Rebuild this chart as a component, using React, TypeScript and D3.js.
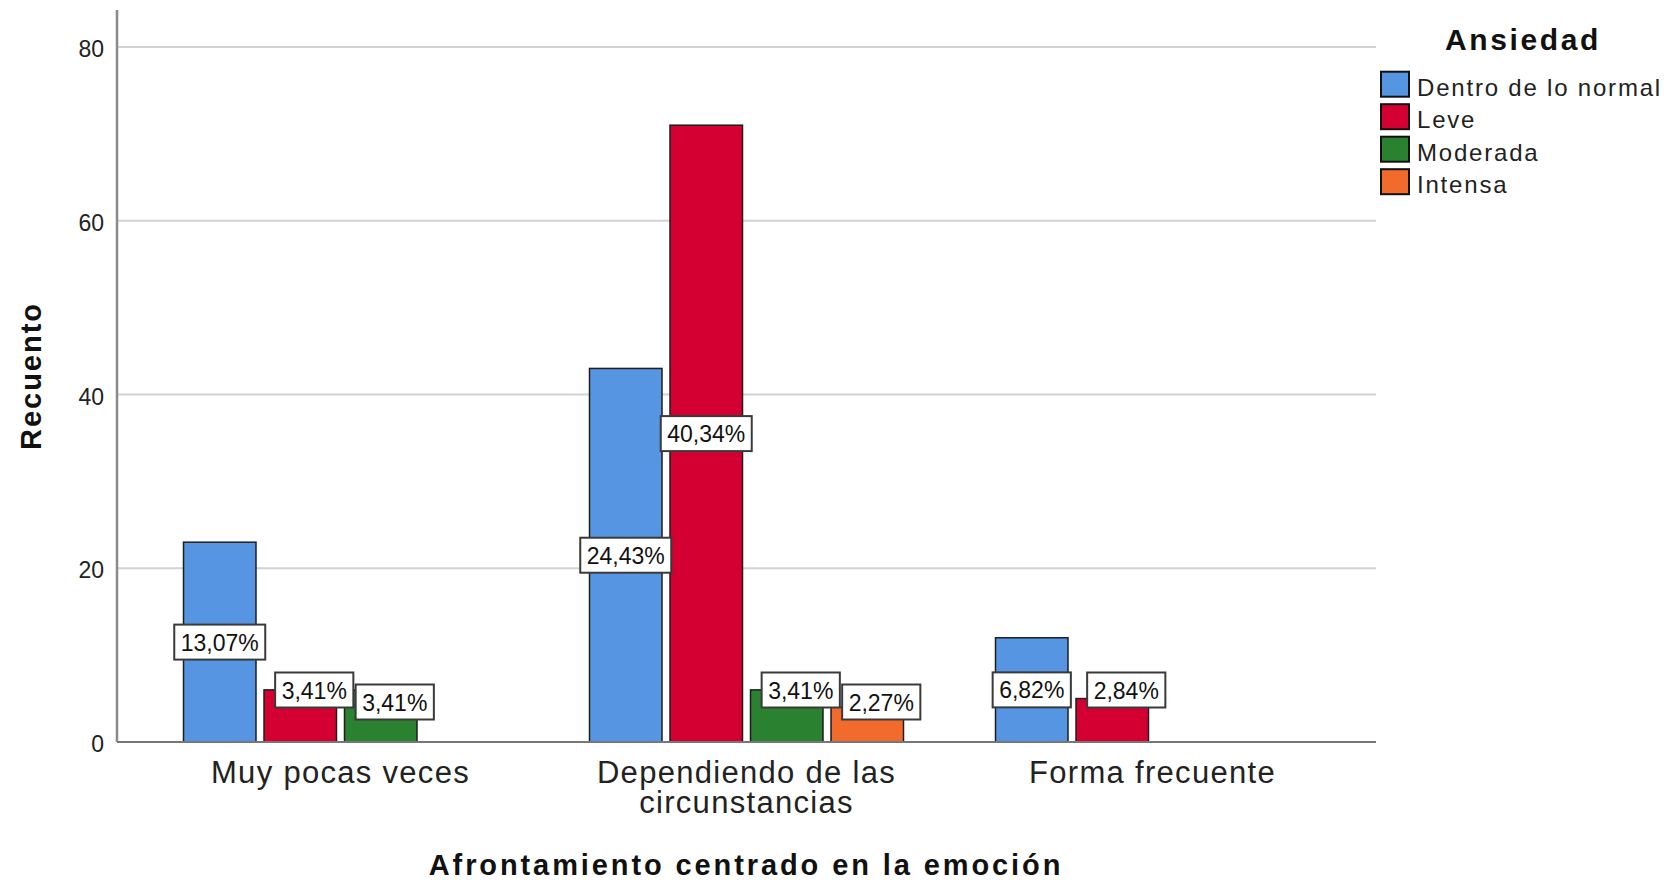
import React from 'react';
import * as d3 from 'd3';

const categories = ['Muy pocas veces', 'Dependiendo de las circunstancias', 'Forma frecuente'];
const series = ['Dentro de lo normal', 'Leve', 'Moderada', 'Intensa'];
// counts per category, one array per series (0 = no bar drawn)
const normalCounts = [23, 43, 12];
const leveCounts = [6, 71, 5];
const moderadaCounts = [6, 6, 0];
const intensaCounts = [0, 4, 0];
const yTicks = [0, 20, 40, 60, 80];
const total = 176;

const colors = ['#5595E2', '#D50032', '#2A8230', '#F26A2C'];

const W = 1671;
const H = 880;
const FONT = '"Liberation Sans", Arial, sans-serif';

// greedy word wrap by character count
const wrap = (s: string, max: number) => {
  const lines: string[] = [];
  let cur = '';
  s.split(' ').forEach(w => {
    if (cur && (cur + ' ' + w).length > max) {
      lines.push(cur);
      cur = w;
    } else {
      cur = cur ? cur + ' ' + w : w;
    }
  });
  if (cur) lines.push(cur);
  return lines;
};

// rough text width for the label boxes (Liberation Sans metrics)
const textWidth = (s: string, size: number) =>
  s.split('').reduce((acc, c) => acc + (c === ',' ? 0.278 : c === '%' ? 0.889 : 0.556), 0) * size;

const fmtPct = (v: number) => ((v / total) * 100).toFixed(2).replace('.', ',') + '%';

export default function App() {
  const left = 117;
  const right = 1376;
  const top = 10;

  const y = d3.scaleLinear().domain([0, 80]).range([742, 47]);
  const x0 = d3.scaleBand().domain(categories).range([137.5, 1355.5]);
  const innerW = 314;
  const x1 = d3.scaleBand().domain(series).range([0, innerW]).paddingInner(0.0994);

  const values = [normalCounts, leveCounts, moderadaCounts, intensaCounts];
  const bars = categories.flatMap((c, ci) =>
    series.map((s, si) => ({ c, s, si, v: values[si][ci] })).filter(d => d.v > 0)
  );

  const groupX = (c: string) => (x0(c) as number) + (x0.bandwidth() - innerW) / 2;
  const y0 = y(0);
  const labelSize = 23;
  const boxH = 35;

  // label positions: centred on the bar, or lifted and nudged right when the bar is short
  const clampedInGroup: Record<string, number> = {};
  const labels = bars.map(d => {
    const cx = groupX(d.c) + (x1(d.s) as number) + x1.bandwidth() / 2;
    let cy = (y(d.v) + y0) / 2;
    let dx = 0;
    if (y0 - cy < 48) {
      const k = clampedInGroup[d.c] || 0;
      clampedInGroup[d.c] = k + 1;
      cy = y0 - 52 + k * 12;
      dx = 14;
    }
    const text = fmtPct(d.v);
    return { key: d.c + d.s, x: cx + dx, y: cy, text, w: textWidth(text, labelSize) + 13 };
  });

  return (
    <svg width={W} height={H} style={{ position: 'absolute', left: 0, top: 0, background: '#fff' }} fontFamily={FONT}>
      {/* gridlines */}
      {yTicks.filter(t => t > 0).map(t => (
        <line key={t} x1={left} x2={right} y1={y(t)} y2={y(t)} stroke="#d2d2d2" strokeWidth={2} />
      ))}
      {/* tick labels */}
      {yTicks.map(t => (
        <text key={t} x={104} y={y(t) + 10} textAnchor="end" fontSize={23} fill="#222">
          {t}
        </text>
      ))}

      {/* bars */}
      {bars.map(d => (
        <rect
          key={d.c + d.s}
          x={groupX(d.c) + (x1(d.s) as number)}
          y={y(d.v)}
          width={x1.bandwidth()}
          height={y0 - y(d.v)}
          fill={colors[d.si]}
          stroke="#1e1e1e"
          strokeWidth={1.5}
        />
      ))}

      {/* axes */}
      <line x1={left} x2={left} y1={top} y2={y0} stroke="#8a8a8a" strokeWidth={2.5} />
      <line x1={left} x2={right} y1={y0} y2={y0} stroke="#777" strokeWidth={2} />

      {/* value labels */}
      {labels.map(l => (
        <g key={'l' + l.key} transform={`translate(${l.x},${l.y})`}>
          <rect x={-l.w / 2} y={-boxH / 2} width={l.w} height={boxH} fill="#fff" stroke="#3a3a3a" strokeWidth={2} />
          <text x={0} y={8.5} textAnchor="middle" fontSize={labelSize} fill="#111">
            {l.text}
          </text>
        </g>
      ))}

      {/* category labels */}
      {categories.map(c => {
        const cx = (x0(c) as number) + x0.bandwidth() / 2;
        return (
          <text key={c} x={cx} y={783} textAnchor="middle" fontSize={31} letterSpacing={1.3} fill="#222">
            {wrap(c, 18).map((line, i) => (
              <tspan key={i} x={cx} dy={i === 0 ? 0 : 29.5}>
                {line}
              </tspan>
            ))}
          </text>
        );
      })}

      {/* axis titles */}
      <text x={746} y={875} textAnchor="middle" fontSize={29} fontWeight="bold" letterSpacing={2.9} fill="#111">
        Afrontamiento centrado en la emoción
      </text>
      <text
        transform={`translate(41,${376}) rotate(-90)`}
        textAnchor="middle"
        fontSize={29}
        fontWeight="bold"
        letterSpacing={2}
        fill="#111"
      >
        Recuento
      </text>

      {/* legend */}
      <text x={1523} y={50} textAnchor="middle" fontSize={30} fontWeight="bold" letterSpacing={2.6} fill="#111">
        Ansiedad
      </text>
      {series.map((s, i) => (
        <g key={s} transform={`translate(1381,${71.7 + i * 32.5})`}>
          <rect x={0} y={0} width={28} height={25} fill={colors[i]} stroke="#111" strokeWidth={2} />
          <text x={36} y={24} fontSize={24} letterSpacing={1.8} fill="#222">
            {s}
          </text>
        </g>
      ))}
    </svg>
  );
}
